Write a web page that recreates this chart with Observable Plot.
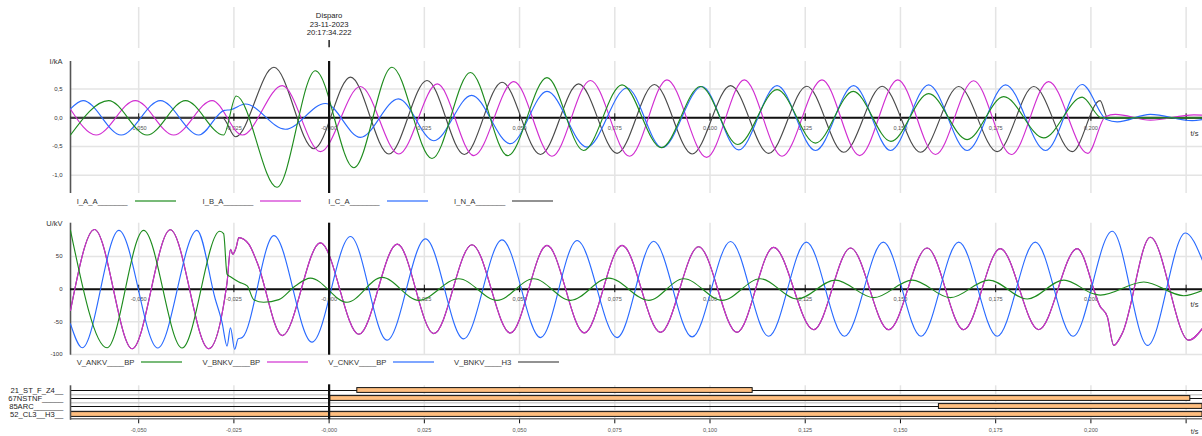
<!DOCTYPE html>
<html><head><meta charset="utf-8">
<script src="https://cdn.jsdelivr.net/npm/d3@7"></script>
<script src="https://cdn.jsdelivr.net/npm/@observablehq/plot@0.6"></script>
<style>
body{margin:0;background:#fff;font-family:"Liberation Sans",Arial,Helvetica,sans-serif;}
#root{position:relative;width:1202px;height:436px;overflow:hidden;background:#fff;}
.panel{position:absolute;left:0;}
.legend{position:absolute;left:0;width:1202px;height:10px;font-size:7.7px;color:#333;}
.item{position:absolute;top:0;height:10px;display:flex;align-items:center;white-space:pre;}
.swatch{display:inline-block;width:41px;height:2.5px;margin-left:7px;opacity:0.6;}
</style></head><body><div id="root"></div>
<script>
// ---------- data ----------
const xDomain = [-0.0679, 0.2293];
const xGrid = [-0.05,-0.025,0,0.025,0.05,0.075,0.1,0.125,0.15,0.175,0.2,0.225];
const xTickLabels = ["-0,050","-0,025","-0,000","0,025","0,050","0,075","0,100","0,125","0,150","0,175","0,200",""];
const triggerTime = 0;
const triggerText = ["Disparo","23-11-2023","20:17:34.222"];

const currentTicks = [0.5,0,-0.5,-1];
const currentTickLabels = ["0,5","0,0","-0,5","-1,0"];
const voltageTicks = [50,0,-50,-100];
const voltageTickLabels = ["50","0","-50","-100"];

const currentNames = ["I_A_A_______","I_B_A_______","I_C_A_______","I_N_A_______"];
const voltageNames = ["V_ANKV____BP","V_BNKV____BP","V_CNKV____BP","V_BNKV____H3"];
const seriesColors = ["#1e8c1e","#d12ed1","#2a6bff","#4a4a4a"];

const digitalNames = ["21_ST_F_Z4__","67NSTNF_____","85ARC_______","52_CL3__H3__"];
const digitalStart = [0.0074, 0.0003, 0.1601, -0.0679];
const digitalEnd   = [0.1112, 0.2261, 0.2293, 0.2293];

// currents (t [s], I [kA]) – extrema read from the record
const iA = [[-0.0679,-0.30],[-0.0579,0.30],[-0.0478,-0.30],[-0.0377,0.30],[-0.0277,-0.30],[-0.0244,0.38],[-0.0137,-1.21],[-0.0036,0.82],[0.0065,-0.87],[0.0165,0.88],[0.0270,-0.71],[0.0371,0.79],[0.0469,-0.66],[0.0572,0.70],[0.0668,-0.57],[0.0769,0.575],[0.0872,-0.52],[0.0975,0.545],[0.1073,-0.465],[0.1176,0.49],[0.1277,-0.44],[0.1376,0.46],[0.1475,-0.41],[0.1574,0.42],[0.1675,-0.38],[0.1771,0.37],[0.1876,-0.35],[0.1977,0.36],[0.2028,0],[0.2293,0]];
const iB = [[-0.0679,0.15],[-0.0612,-0.30],[-0.0509,0.30],[-0.0408,-0.30],[-0.0307,0.30],[-0.0228,-0.30],[-0.0123,0.56],[-0.0023,-0.59],[0.0082,0.545],[0.0183,-0.63],[0.0284,0.59],[0.0380,-0.66],[0.0485,0.63],[0.0585,-0.67],[0.0686,0.65],[0.0789,-0.67],[0.0887,0.66],[0.0991,-0.69],[0.1090,0.66],[0.1189,-0.67],[0.1294,0.66],[0.1393,-0.66],[0.1493,0.66],[0.1592,-0.64],[0.1692,0.645],[0.1791,-0.64],[0.1889,0.63],[0.1992,-0.62],[0.2038,0.02],[0.2064,0.06],[0.2156,-0.04],[0.2270,0.05],[0.2293,0.045]];
const iC = [[-0.0679,0.157],[-0.0646,0.30],[-0.0546,-0.30],[-0.0443,0.30],[-0.0342,-0.30],[-0.0275,0.13],[-0.0259,0.14],[-0.0220,0.24],[-0.0115,-0.20],[-0.0010,0.25],[0.0082,-0.34],[0.0182,0.33],[0.0275,-0.40],[0.0374,0.39],[0.0476,-0.45],[0.0572,0.46],[0.0677,-0.51],[0.0782,0.52],[0.0874,-0.52],[0.0979,0.545],[0.1075,-0.56],[0.1176,0.56],[0.1277,-0.57],[0.1377,0.56],[0.1474,-0.57],[0.1574,0.575],[0.1675,-0.57],[0.1776,0.575],[0.1881,-0.57],[0.1977,0.58],[0.2041,-0.03],[0.2069,-0.07],[0.2156,0.06],[0.2266,-0.05],[0.2293,-0.03]];
const iN = [[-0.0679,0],[-0.0280,0],[-0.0246,-0.33],[-0.0145,0.88],[-0.0040,-0.54],[0.0056,0.71],[0.0157,-0.63],[0.0257,0.65],[0.0355,-0.64],[0.0454,0.62],[0.0555,-0.64],[0.0655,0.59],[0.0756,-0.62],[0.0854,0.58],[0.0953,-0.63],[0.1054,0.56],[0.1154,-0.62],[0.1254,0.55],[0.1351,-0.60],[0.1452,0.55],[0.1553,-0.60],[0.1653,0.545],[0.1754,-0.59],[0.1850,0.545],[0.1951,-0.59],[0.2024,0.30],[0.2044,0],[0.2293,0]];

// voltages (t [s], U [kV])
const vA = [[-0.0679,89.8],[-0.0583,-89.6],[-0.0487,90],[-0.0386,-90],[-0.0287,88.7],[-0.0277,85],[-0.0268,23],[-0.0259,19],[-0.0237,11],[-0.0215,5],[-0.0198,-16],[-0.0172,-20],[-0.0132,-16],[-0.0089,5],[-0.0049,17],[0.0047,-20],[0.0139,18],[0.0235,-17],[0.0340,16],[0.0441,-17],[0.0537,16],[0.0634,-17],[0.0734,17],[0.0839,-17],[0.0931,16],[0.1032,-17],[0.1132,16],[0.1229,-15],[0.1329,14],[0.1430,-13],[0.1531,14],[0.1631,-13],[0.1732,14],[0.1833,-15],[0.1929,14],[0.2007,-7],[0.2025,-9],[0.2139,11],[0.2244,-10],[0.2293,-2]];
const vB = [[-0.0679,-32.6],[-0.0616,91.3],[-0.0517,-91],[-0.0417,91],[-0.0316,-91],[-0.0268,10],[-0.0259,61],[-0.0253,53.5],[-0.0244,64],[-0.0237,79],[-0.0211,69],[-0.0189,41],[-0.0123,-71],[-0.0023,71],[0.0078,-69],[0.0179,69],[0.0275,-68],[0.0375,68],[0.0476,-67],[0.0572,67],[0.0670,-67],[0.0769,67],[0.0870,-66],[0.0970,65],[0.1071,-66],[0.1167,64],[0.1272,-62],[0.1369,63],[0.1469,-62],[0.1570,63],[0.1666,-62],[0.1762,62],[0.1863,-62],[0.1964,62],[0.2025,-27],[0.2043,-42],[0.2060,-86],[0.2082,-68],[0.2156,79.5],[0.2257,-78],[0.2293,-60]];
const vC = [[-0.0679,-53],[-0.0648,-89.6],[-0.0552,90],[-0.0450,-90],[-0.0347,90],[-0.0299,-15],[-0.0281,-51],[-0.0268,-87],[-0.0259,-59],[-0.0248,-92],[-0.0239,-76],[-0.0228,-74],[-0.0145,82],[-0.0045,-81],[0.0056,80.6],[0.0152,-78],[0.0253,77],[0.0353,-76],[0.0454,75.5],[0.0555,-74],[0.0651,74.5],[0.0756,-74],[0.0852,73.4],[0.0953,-73],[0.1054,73],[0.1154,-72],[0.1253,72],[0.1353,-72],[0.1455,72],[0.1554,-72],[0.1653,72],[0.1754,-72],[0.1854,72],[0.1953,-72],[0.2056,88.7],[0.2149,-86],[0.2248,86],[0.2293,44]];
const vBH3 = vB; // H3 channel of phase B coincides with the BP channel

// ---------- drawing ----------
const font = '"Liberation Sans", Arial, Helvetica, sans-serif';
const gridColor = "#e4e4e4";
const root = document.getElementById("root");
function place(node, top) {
  const d = document.createElement("div");
  d.className = "panel"; d.style.top = top + "px";
  d.appendChild(node); root.appendChild(d);
}
const baseStyle = {background: "transparent", fontFamily: font, overflow: "visible"};

// header with trigger marker
place(Plot.plot({
  width: 1202, height: 48, marginLeft: 70, marginRight: 0, marginTop: 7, marginBottom: 0,
  x: {domain: xDomain, axis: null}, y: {domain: [48, 7], axis: null},
  style: baseStyle,
  marks: [
    Plot.ruleX(xGrid.filter(d => d !== triggerTime), {stroke: gridColor, strokeWidth: 1.5}),
    Plot.ruleX([triggerTime], {x: d => d, y1: d => 40, y2: d => 47.3, stroke: "#222", strokeWidth: 1.5}),
    Plot.text([triggerText.join("\n")], {x: d => triggerTime, frameAnchor: "top", lineAnchor: "top", dy: 5, lineHeight: 1.08, fontSize: 7.7, fill: "#222"})
  ]
}), 0);

function analog({height, marginTop, marginBottom, yDomain, yTicks, yLabels, unit, series, order}) {
  const marks = [
    Plot.ruleY(yTicks, {stroke: gridColor, strokeWidth: 1.5}),
    Plot.ruleX(xGrid, {stroke: gridColor, strokeWidth: 1.5}),
    Plot.text(xGrid, {x: d => d, y: d => 0, text: (d, i) => xTickLabels[i], dy: 10.5, fontSize: 5.6, fill: "#555"}),
    Plot.text(["t/s"], {x: d => xDomain[1], y: d => 0, dy: 15.5, dx: -4, textAnchor: "end", fontSize: 7.6, fill: "#333"}),
    Plot.text(yTicks, {y: d => d, text: (d, i) => yLabels[i], frameAnchor: "left", textAnchor: "end", dx: -8, fontSize: 6, fill: "#333"}),
    Plot.text([unit], {frameAnchor: "top-left", lineAnchor: "middle", textAnchor: "end", dx: -8, fontSize: 7.5, fill: "#333"}),
    Plot.ruleX([xDomain[0]], {stroke: "#555", strokeWidth: 1.6}),
    Plot.ruleY([0], {stroke: "#111", strokeWidth: 2}),
    Plot.ruleX(xGrid, {x: d => d, y1: d => 0, y2: d => 0, insetTop: -4, insetBottom: -3.5, stroke: "#111", strokeWidth: 1})
  ];
  for (const k of order) {
    marks.push(Plot.line(series[k], {x: d => d[0], y: d => d[1], stroke: seriesColors[k], strokeWidth: 1.15, curve: "monotone-x", clip: true}));
  }
  marks.push(Plot.ruleX([triggerTime], {stroke: "#111", strokeWidth: 2.2}));
  return Plot.plot({
    width: 1202, height, marginLeft: 70, marginRight: 0, marginTop, marginBottom,
    x: {domain: xDomain, axis: null}, y: {domain: yDomain, axis: null},
    style: baseStyle, marks
  });
}

place(analog({height: 150, marginTop: 13, marginBottom: 5, yDomain: [-1.319, 0.981],
  yTicks: currentTicks, yLabels: currentTickLabels, unit: "I/kA",
  series: [iA, iB, iC, iN], order: [3, 1, 2, 0]}), 48);

place(analog({height: 150, marginTop: 14.7, marginBottom: 3.3, yDomain: [-101, 101],
  yTicks: voltageTicks, yLabels: voltageTickLabels, unit: "U/kV",
  series: [vA, vB, vC, vBH3], order: [3, 1, 2, 0]}), 208);

// digital channels
const band = 8.25;
place(Plot.plot({
  width: 1202, height: 64, marginLeft: 70, marginRight: 0, marginTop: 13.3, marginBottom: 17.7,
  x: {domain: xDomain, axis: null},
  y: {type: "band", domain: digitalNames, padding: 0, axis: null},
  style: baseStyle,
  marks: [
    Plot.ruleX(xGrid, {stroke: gridColor, strokeWidth: 1.5}),
    Plot.ruleY(digitalNames.slice(0, 3), {y: d => d, dy: band / 2, stroke: "#d0d0d0", strokeWidth: 1.5}),
    Plot.ruleY(digitalNames.slice(3), {y: d => d, dy: band / 2, stroke: "#777", strokeWidth: 1.5}),
    Plot.ruleY(digitalNames, {y: d => d, stroke: "#111", strokeWidth: 1}),
    Plot.barX(digitalNames, {y: d => d, x1: (d, i) => digitalStart[i], x2: (d, i) => digitalEnd[i], fill: "#ffbf80", stroke: "#111", strokeWidth: 1, insetTop: 1.6, insetBottom: 1.6, clip: true}),
    Plot.text(digitalNames, {y: d => d, text: d => d, frameAnchor: "left", textAnchor: "end", dx: -7.3, fontSize: 7.6, fill: "#222"}),
    Plot.ruleX([xDomain[0]], {stroke: "#555", strokeWidth: 1.6, insetBottom: -1.4}),
    Plot.ruleX(xGrid, {stroke: "#111", strokeWidth: 1, insetTop: 34, insetBottom: -5}),
    Plot.text(xGrid, {x: d => d, frameAnchor: "bottom", lineAnchor: "middle", dy: 11, text: (d, i) => xTickLabels[i], fontSize: 5.6, fill: "#555"}),
    Plot.text(["t/s"], {frameAnchor: "bottom-right", lineAnchor: "middle", textAnchor: "end", dx: -4, dy: 12.6, fontSize: 7.4, fill: "#333"}),
    Plot.ruleX([triggerTime], {stroke: "#111", strokeWidth: 2.2, insetTop: -1, insetBottom: -1})
  ]
}), 372);

// legends
function legend(names, center) {
  const lg = document.createElement("div");
  lg.className = "legend"; lg.style.top = (center - 5) + "px";
  names.forEach((n, i) => {
    const it = document.createElement("div");
    it.className = "item"; it.style.left = (76.7 + 125.8 * i) + "px";
    const t = document.createElement("span"); t.textContent = n;
    const s = document.createElement("span"); s.className = "swatch"; s.style.background = seriesColors[i];
    it.appendChild(t); it.appendChild(s); lg.appendChild(it);
  });
  root.appendChild(lg);
}
legend(currentNames, 201);
legend(voltageNames, 362);
</script></body></html>
